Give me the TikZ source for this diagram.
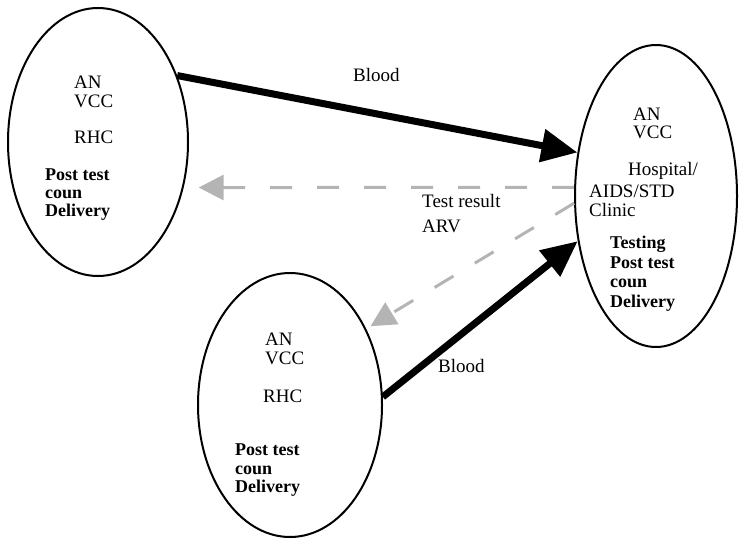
\documentclass[tikz,border=0pt]{standalone}
\usepackage{fontspec}
\setmainfont{Liberation Serif}
\usepackage{tikz}
\usetikzlibrary{shapes.geometric,arrows.meta,positioning}
\usepackage{xcolor}
\definecolor{ink}{HTML}{000000}
\definecolor{faded}{HTML}{B4B4B4}

\begin{document}
\begin{tikzpicture}[x=1pt, y=-1pt,
  site/.style={ellipse, draw=ink, line width=2pt, inner sep=0pt},
  lbl/.style={anchor=north west, inner sep=0pt, align=left, font=\fontsize{19}{19}\selectfont},
  bold/.style={lbl, font=\fontsize{18}{#1}\selectfont\bfseries},
  blood/.style={line width=7pt, ink, -{Triangle[length=36pt,width=32pt]}},
  result/.style={line width=3pt, faded, dash pattern=on 22pt off 25pt, -{Triangle[length=25pt,width=25pt]}}]
  \useasboundingbox (0,0) rectangle (741,538);
  % the three sites
  \node[site, minimum width=180pt, minimum height=268pt] (rhcA) at (98,142) {};
  \node[site, minimum width=162pt, minimum height=302pt] (hosp) at (656,196) {};
  \node[site, minimum width=184pt, minimum height=264pt] (rhcB) at (290,405) {};
  % upper RHC
  \node[lbl] (rhcAan) at (74,76) {AN\\VCC};
  \node[lbl] (rhcAname) at (74,131) {RHC};
  \node[bold=18] (rhcAdo) at (45,169) {Post test\\coun\\Delivery};
  % hospital
  \node[lbl, font=\fontsize{19}{18}\selectfont] (hospan) at (633,108) {AN\\VCC};
  \node[lbl] (hospname) at (628,162) {Hospital/};
  \node[lbl] (hospclinic) at (589,185) {AIDS/STD\\Clinic};
  \node[bold=19.5] (hospdo) at (610,236) {Testing\\Post test\\coun\\Delivery};
  % lower RHC
  \node[lbl] (rhcBan) at (265,333) {AN\\VCC};
  \node[lbl] (rhcBname) at (263,390) {RHC};
  \node[bold=18.5] (rhcBdo) at (235,444) {Post test\\coun\\Delivery};
  % flows
  \draw[blood] (rhcA.40) -- (hosp.151);
  \draw[blood] (rhcB.5) -- (hosp.210);
  \draw[result, shorten >=15pt] (hosp.174) -- (rhcA.-28);
  \draw[result, shorten >=5pt] (hosp.185) -- (rhcB.45);
  \node[lbl] (bloodA) at (353,68) {Blood};
  \node[lbl, font=\fontsize{19}{25}\selectfont] (res) at (422,194) {Test result\\ARV};
  \node[lbl] (bloodB) at (438,359) {Blood};
\end{tikzpicture}
\end{document}
